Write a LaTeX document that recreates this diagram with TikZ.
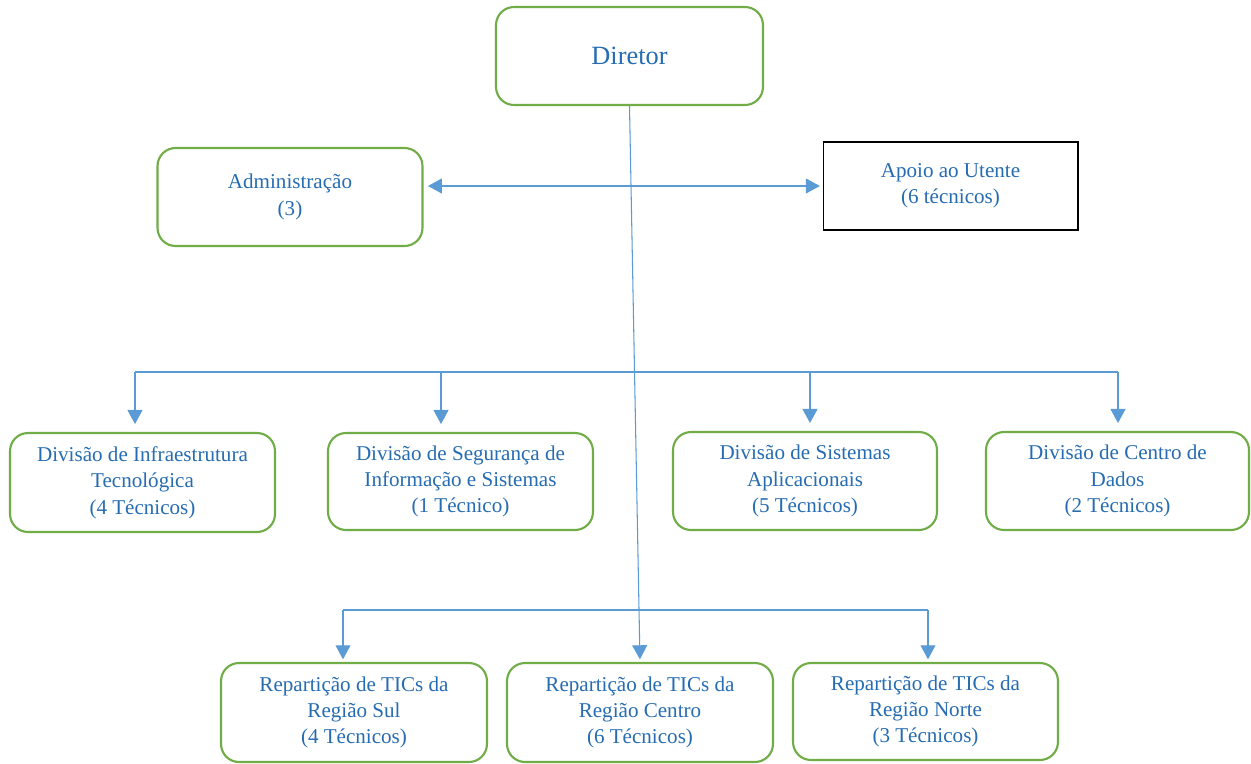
\documentclass[tikz,border=0pt]{standalone}
\usepackage{fontspec}
\setmainfont{Liberation Serif}
\usetikzlibrary{arrows.meta}

\definecolor{boxgreen}{RGB}{112,173,71}
\definecolor{txtblue}{RGB}{38,108,178}
\definecolor{linkblue}{RGB}{91,155,213}

\tikzset{
  unit/.style={draw=boxgreen, line width=1.2pt, rounded corners=0.36cm, text=txtblue,
    align=center, font=\fontsize{12}{15}\selectfont, inner sep=2pt,
    minimum width=5.3cm, minimum height=1.96cm},
  plainbox/.style={draw=black, line width=0.6pt, text=txtblue, align=center,
    font=\fontsize{12}{15}\selectfont, minimum width=5.1cm, minimum height=1.76cm},
  link/.style={draw=linkblue, line width=0.6pt},
  tip/.style={link, -{Triangle[length=8pt,width=8.5pt]}, linkblue}
}

\begin{document}
\begin{tikzpicture}[x=0.02cm, y=-0.02cm]
\useasboundingbox[fill=white] (0,0) rectangle (1251,764);

% top
\node[unit, minimum width=5.34cm, font=\fontsize{15}{18}\selectfont] (dir) at (629.5,56) {Diretor};
\node[unit] (adm) at (290,197) {Administração\\(3)};
\node[plainbox] (apoio) at (950.5,186) {Apoio ao Utente\\(6 técnicos)};

% divisions
\node[unit, minimum height=1.98cm] (infra) at (142.5,482.5) {Divisão de Infraestrutura\\Tecnológica\\(4 Técnicos)};
\node[unit, minimum height=1.94cm] (seg) at (460.5,481.5) {Divisão de Segurança de\\Informação e Sistemas\\(1 Técnico)};
\node[unit, minimum width=5.28cm] (sis) at (805,481) {Divisão de Sistemas\\Aplicacionais\\(5 Técnicos)};
\node[unit, minimum width=5.26cm] (dados) at (1117.5,481) {Divisão de Centro de\\Dados\\(2 Técnicos)};

% regions
\node[unit, minimum width=5.32cm, minimum height=1.98cm] (sul) at (354,712.5) {Repartição de TICs da\\Região Sul\\(4 Técnicos)};
\node[unit, minimum width=5.32cm, minimum height=1.98cm] (centro) at (640,712.5) {Repartição de TICs da\\Região Centro\\(6 Técnicos)};
\node[unit, minimum height=1.94cm] (norte) at (925.5,711.5) {Repartição de TICs da\\Região Norte\\(3 Técnicos)};

% connectors
\draw[tip, shorten >=1.5pt] (dir.south) -- (centro.north);
\draw[link, {Triangle[length=8pt,width=8.5pt]}-{Triangle[length=8pt,width=8.5pt]}, linkblue, shorten <=2.5pt, shorten >=1.5pt]
  (adm.east |- apoio.west) -- (apoio.west);

\coordinate (divl) at (135,372);
\coordinate (divr) at (1118,372);
\draw[link] (divl) -- (divr);
\foreach \n/\x in {infra/135, seg/441, sis/810, dados/1118}
  \draw[tip, shorten >=4.5pt] (\x,372) -- (\x,372 |- \n.north);

\coordinate (regl) at (343,610);
\coordinate (regr) at (928,610);
\draw[link] (regl) -- (regr);
\foreach \n/\x in {sul/343, norte/928}
  \draw[tip, shorten >=1.5pt] (\x,610) -- (\x,610 |- \n.north);
\end{tikzpicture}
\end{document}
